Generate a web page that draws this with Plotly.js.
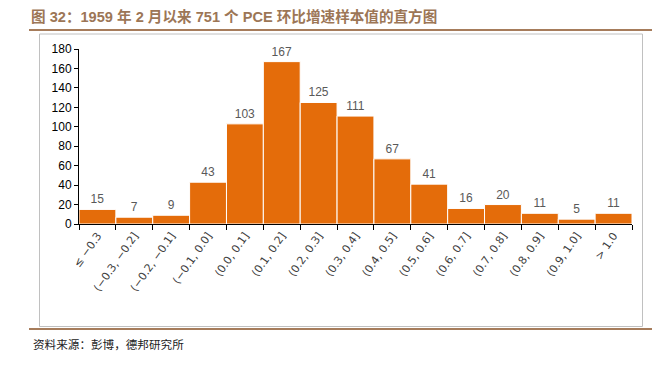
<!DOCTYPE html>
<html>
<head>
<meta charset="utf-8">
<script src="https://cdn.plot.ly/plotly-3.0.1.min.js"></script>
<style>html,body{margin:0;padding:0;background:#fff;}#chart{width:663px;height:369px;}</style>
</head>
<body>
<div id="chart"></div>
<script>
var categories = ["≤ −0.3", "(−0.3, −0.2]", "(−0.2, −0.1]", "(−0.1, 0.0]", "(0.0, 0.1]", "(0.1, 0.2]", "(0.2, 0.3]", "(0.3, 0.4]", "(0.4, 0.5]", "(0.5, 0.6]", "(0.6, 0.7]", "(0.7, 0.8]", "(0.8, 0.9]", "(0.9, 1.0]", "> 1.0"];
var counts = [15, 7, 9, 43, 103, 167, 125, 111, 67, 41, 16, 20, 11, 5, 11];
var titleText = "图 32：1959 年 2 月以来 751 个 PCE 环比增速样本值的直方图";
var sourceText = "资料来源：彭博，德邦研究所";

var L = 79, R = 31, T = 49, B = 145, FW = 663, FH = 369;
var W = FW - L - R, H = FH - T - B;
function px(x){ return (x - L) / W; }
function py(y){ return (FH - B - y) / H; }

var brown = "#A67C5B";
var trace = {
  type: "bar",
  x: categories,
  y: counts,
  text: counts.map(String),
  textposition: "outside",
  cliponaxis: false,
  textfont: {family: "Liberation Sans, Arial, sans-serif", size: 12, color: "#595959"},
  marker: {color: "#E46C0A", line: {color: "#FFFFFF", width: 1}},
  hoverinfo: "none"
};

var layout = {
  width: FW, height: FH,
  margin: {l: L, r: R, t: T, b: B},
  paper_bgcolor: "#fff", plot_bgcolor: "#fff",
  showlegend: false,
  bargap: 0,
  title: {
    text: "<b>" + titleText + "</b>",
    xref: "container", yref: "container",
    x: 31 / FW, xanchor: "left",
    y: 1 - 17 / FH, yanchor: "middle",
    font: {family: "Liberation Sans, Noto Sans CJK SC, sans-serif", size: 14.6, color: "#9C7656"}
  },
  xaxis: {
    type: "category",
    tickson: "boundaries",
    ticks: "outside", ticklen: 5, tickcolor: "#000", tickwidth: 1,
    showline: true, linecolor: "#000", linewidth: 1,
    showgrid: false, zeroline: false,
    tickangle: -55,
    tickfont: {family: "DejaVu Sans, sans-serif", size: 11, color: "#404040"}
  },
  yaxis: {
    range: [0, 180], dtick: 20,
    ticks: "outside", ticklen: 4, tickcolor: "#000",
    showline: true, linecolor: "#000", linewidth: 1,
    showgrid: false, zeroline: false,
    tickfont: {family: "Liberation Sans, Arial, sans-serif", size: 12, color: "#000"}
  },
  shapes: [
    {type: "line", xref: "paper", yref: "paper", x0: px(29), x1: px(652), y0: py(30), y1: py(30), line: {color: brown, width: 2}},
    {type: "line", xref: "paper", yref: "paper", x0: px(29), x1: px(652), y0: py(329), y1: py(329), line: {color: brown, width: 2}},
    {type: "rect", xref: "paper", yref: "paper", x0: px(39.5), x1: px(642.5), y0: py(34), y1: py(326.5), line: {color: "#C0C0C0", width: 1}, layer: "below"}
  ],
  annotations: [
    {text: sourceText, xref: "paper", yref: "paper", x: px(31), y: py(344), xanchor: "left", yanchor: "middle", showarrow: false,
     font: {family: "Noto Sans CJK SC, sans-serif", size: 11.6, color: "#222"}}
  ]
};

Plotly.newPlot("chart", [trace], layout, {staticPlot: true, displayModeBar: false});
</script>
</body>
</html>
